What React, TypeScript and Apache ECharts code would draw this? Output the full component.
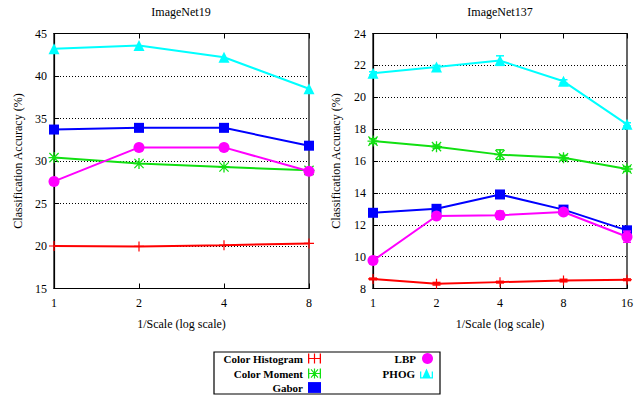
import React, { useEffect, useRef } from "react";
import * as echarts from "echarts";

const seriesNames = ["Color Histogram", "Color Moment", "Gabor", "LBP", "PHOG"];
const colors = ["#ff0000", "#11e011", "#0000ff", "#ff00ff", "#00ffff"];

const scales19 = ["1", "2", "4", "8"];
const hist19 = [20.0, 19.95, 20.1, 20.3];
const moment19 = [30.4, 29.7, 29.3, 28.9];
const gabor19 = [33.7, 33.9, 33.9, 31.8];
const lbp19 = [27.6, 31.6, 31.6, 28.8];
const phog19 = [43.2, 43.6, 42.2, 38.5];

const scales137 = ["1", "2", "4", "8", "16"];
const hist137 = [8.6, 8.3, 8.4, 8.5, 8.55];
const moment137 = [17.25, 16.9, 16.4, 16.2, 15.5];
const gabor137 = [12.75, 13.0, 13.9, 12.95, 11.65];
const lbp137 = [9.75, 12.55, 12.6, 12.8, 11.25];
const phog137 = [21.5, 21.9, 22.3, 21.0, 18.3];

const histErr137 = [0.05, 0.08, 0.05, 0.08, 0.05];
const momentErr137 = [0.15, 0.1, 0.3, 0.15, 0.15];
const gaborErr137 = [0.1, 0.1, 0.2, 0.1, 0.15];
const lbpErr137 = [0.2, 0.1, 0.25, 0.1, 0.35];
const phogErr137 = [0.1, 0.1, 0.3, 0.1, 0.1];

const PLUS = "path://M4.4,0H5.6V10H4.4Z M0,4.4H10V5.6H0Z";
const STAR =
  "path://M4.4,0H5.6V10H4.4Z M0,4.4H10V5.6H0Z M0.4,1.2L1.2,0.4L9.6,8.8L8.8,9.6Z M8.8,0.4L9.6,1.2L1.2,9.6L0.4,8.8Z";
const symbols = [PLUS, STAR, "rect", "circle", "triangle"];
const symbolSizes = [10, 11, 10, 11, 11];

const legendIcons = [
  "path://M0,0H1.3V10H0Z M11.7,0H13V10H11.7Z M0,4.4H13V5.6H0Z M5.9,0H7.1V10H5.9Z",
  "path://M0,0H1.3V10H0Z M11.7,0H13V10H11.7Z M0,4.4H13V5.6H0Z M5.9,0H7.1V10H5.9Z M2.6,1.2L3.4,0.4L10.4,8.8L9.6,9.6Z M9.6,0.4L10.4,1.2L3.4,9.6L2.6,8.8Z",
  "path://M0.5,0H12.5V10H0.5Z",
  "circle",
  "path://M0,3H1.3V10H0Z M11.7,3H13V10H11.7Z M0,8.7H13V10H0Z M6.5,0L11,10H2Z",
];

const FONT = "Liberation Serif";

export default function App() {
  const ref = useRef<HTMLDivElement>(null);
  useEffect(() => {
    if (!ref.current) return;
    const chart = echarts.init(ref.current, undefined, { renderer: "svg" });

    const data19 = [hist19, moment19, gabor19, lbp19, phog19];
    const data137 = [hist137, moment137, gabor137, lbp137, phog137];
    const err137 = [histErr137, momentErr137, gaborErr137, lbpErr137, phogErr137];

    const grids = [
      { left: 54, right: 333, top: 33.5, bottom: 108.5, show: true, borderColor: "#000", borderWidth: 1.2, containLabel: false },
      { left: 373, right: 15, top: 33.5, bottom: 108.5, show: true, borderColor: "#000", borderWidth: 1.2, containLabel: false },
    ];

    const makeX = (gi: number, cats: string[]) => [
      {
        type: "category",
        gridIndex: gi,
        data: cats,
        boundaryGap: false,
        position: "bottom",
        axisLine: { show: true, lineStyle: { color: "#000", width: 1.2 } },
        axisTick: { show: true, inside: true, length: 5, lineStyle: { color: "#000" } },
        axisLabel: { color: "#000", fontFamily: FONT, fontSize: 12, margin: 8 },
        splitLine: { show: false },
        name: "1/Scale (log scale)",
        nameLocation: "middle",
        nameGap: 29,
        nameTextStyle: { color: "#000", fontFamily: FONT, fontSize: 12 },
      },
      {
        type: "category",
        gridIndex: gi,
        data: cats,
        boundaryGap: false,
        position: "top",
        axisLine: { show: true, lineStyle: { color: "#000", width: 1.2 } },
        axisTick: { show: true, inside: true, length: 5, lineStyle: { color: "#000" } },
        axisLabel: { show: false },
        splitLine: { show: false },
      },
    ];

    const makeY = (gi: number, min: number, max: number, interval: number, nameGap: number) => ({
      type: "value",
      gridIndex: gi,
      min,
      max,
      interval,
      axisLine: { show: true, lineStyle: { color: "#000", width: 1.2 } },
      axisTick: { show: true, inside: true, length: 5, lineStyle: { color: "#000" } },
      axisLabel: { color: "#000", fontFamily: FONT, fontSize: 12, margin: 7 },
      splitLine: { show: true, lineStyle: { color: "#000", type: [1, 2], width: 1 } },
      name: "Classification Accuracy (%)",
      nameLocation: "middle",
      nameGap,
      nameTextStyle: { color: "#000", fontFamily: FONT, fontSize: 12 },
    });

    const series: any[] = [];
    data19.forEach((d, i) => {
      series.push({
        type: "line",
        name: seriesNames[i],
        xAxisIndex: 0,
        yAxisIndex: 0,
        data: d,
        symbol: symbols[i],
        symbolSize: symbolSizes[i],
        showAllSymbol: true,
        lineStyle: { color: colors[i], width: 2 },
        itemStyle: { color: colors[i] },
        z: 3 + i,
      });
    });
    data137.forEach((d, i) => {
      series.push({
        type: "line",
        name: seriesNames[i],
        xAxisIndex: 2,
        yAxisIndex: 1,
        data: d,
        symbol: symbols[i],
        symbolSize: symbolSizes[i],
        showAllSymbol: true,
        lineStyle: { color: colors[i], width: 2 },
        itemStyle: { color: colors[i] },
        z: 3 + i,
      });
      series.push({
        type: "custom",
        name: seriesNames[i],
        xAxisIndex: 2,
        yAxisIndex: 1,
        data: d.map((v, k) => [k, v, err137[i][k]]),
        z: 3 + i,
        renderItem: (params: any, api: any) => {
          const x = api.value(0);
          const v = api.value(1);
          const e = api.value(2);
          const hi = api.coord([x, v + e]);
          const lo = api.coord([x, v - e]);
          const w = 4;
          const style = { stroke: colors[i], lineWidth: 1.5 };
          return {
            type: "group",
            children: [
              { type: "line", shape: { x1: hi[0], y1: hi[1], x2: lo[0], y2: lo[1] }, style },
              { type: "line", shape: { x1: hi[0] - w, y1: hi[1], x2: hi[0] + w, y2: hi[1] }, style },
              { type: "line", shape: { x1: lo[0] - w, y1: lo[1], x2: lo[0] + w, y2: lo[1] }, style },
            ],
          };
        },
      });
    });

    const legendPos = [
      { right: 321, top: 353 },
      { right: 321, top: 368 },
      { right: 321, top: 382 },
      { right: 209, top: 353 },
      { right: 209, top: 368 },
    ];
    const legends = seriesNames.map((n, i) => ({
      show: true,
      data: [{ name: n, icon: legendIcons[i] }],
      right: legendPos[i].right,
      top: legendPos[i].top,
      align: "right",
      padding: 0,
      itemWidth: 13,
      itemHeight: 11,
      selectedMode: false,
      textStyle: { color: "#000", fontFamily: FONT, fontSize: 11, fontWeight: "bold" },
      itemStyle: { color: colors[i] },
    }));

    chart.setOption({
      animation: false,
      backgroundColor: "#fff",
      color: colors,
      grid: grids,
      xAxis: [...makeX(0, scales19), ...makeX(1, scales137)],
      yAxis: [makeY(0, 15, 45, 5, 30), makeY(1, 8, 24, 2, 31)],
      legend: legends,
      series,
      graphic: [
        {
          type: "text",
          x: 181,
          y: 12,
          style: { text: "ImageNet19", font: `12px "${FONT}"`, fill: "#000", textAlign: "center", textVerticalAlign: "middle" },
        },
        {
          type: "text",
          x: 500,
          y: 12,
          style: { text: "ImageNet137", font: `12px "${FONT}"`, fill: "#000", textAlign: "center", textVerticalAlign: "middle" },
        },
        {
          type: "rect",
          shape: { x: 214, y: 352, width: 226, height: 42 },
          style: { fill: "none", stroke: "#000", lineWidth: 1.2 },
          z: -1,
        },
      ],
    });
    return () => chart.dispose();
  }, []);
  return (
    <div
      ref={ref}
      style={{ position: "fixed", left: 0, top: 0, width: 642, height: 397, background: "#fff" }}
    />
  );
}
